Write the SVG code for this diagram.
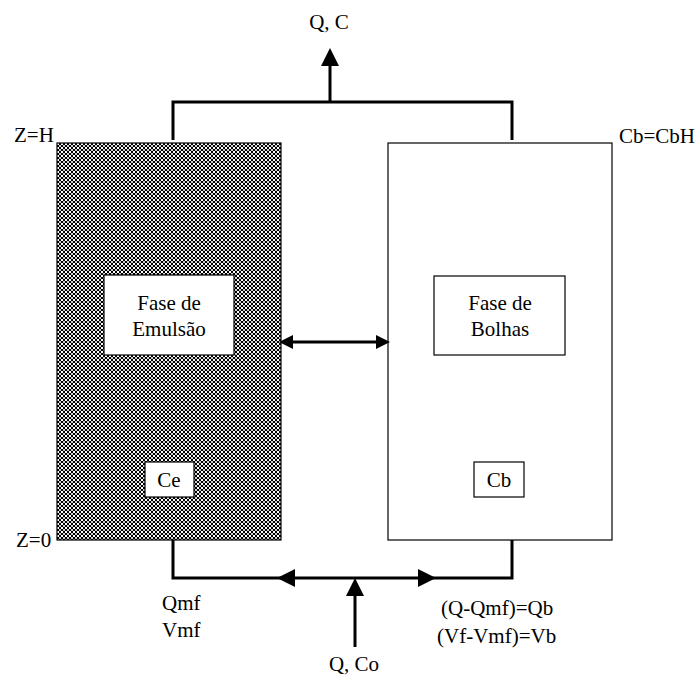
<svg xmlns="http://www.w3.org/2000/svg" width="699" height="677" viewBox="0 0 699 677">
<style>
text{font-family:"Liberation Serif","Times New Roman",serif;font-size:21px;fill:#000}
.c{text-anchor:middle}
.box{fill:#fff;stroke:#000;stroke-width:1.2}
.ln{fill:none;stroke:#000;stroke-width:3}
.ah{fill:#000;stroke:none}
</style>
<defs>
<pattern id="chk" x="57" y="143" width="4" height="4" patternUnits="userSpaceOnUse">
<rect width="4" height="4" fill="#000"/>
<rect x="0" y="0" width="2" height="2" fill="#fff"/>
<rect x="2" y="2" width="2" height="2" fill="#d0d0d0"/>
</pattern>
</defs>
<rect width="699" height="677" fill="#fff"/>
<g id="emulsao">
<rect x="57" y="143" width="224" height="397" fill="url(#chk)" stroke="#000" stroke-width="1.2"/>
<rect class="box" x="104" y="275" width="130" height="80"/>
<text class="c" x="169" y="310">Fase de</text>
<text class="c" x="169" y="336">Emulsão</text>
<rect class="box" x="145" y="462" width="49" height="35"/>
<text class="c" x="169" y="487">Ce</text>
</g>
<g id="bolhas">
<rect class="box" x="388" y="143" width="224" height="397"/>
<rect class="box" x="434" y="276" width="131" height="79"/>
<text class="c" x="500" y="310">Fase de</text>
<text class="c" x="500" y="336">Bolhas</text>
<rect class="box" x="474" y="462" width="50" height="35"/>
<text class="c" x="499" y="487">Cb</text>
</g>
<g id="labels">
<text class="c" x="329" y="29">Q, C</text>
<text x="14" y="142">Z=H</text>
<text x="619" y="143">Cb=CbH</text>
<text x="16" y="547">Z=0</text>
<text x="162" y="610">Qmf</text>
<text x="162" y="637">Vmf</text>
<text x="441" y="615">(Q-Qmf)=Qb</text>
<text x="437" y="643">(Vf-Vmf)=Vb</text>
<text class="c" x="354" y="671">Q, Co</text>
</g>
<g id="connectors">
<polyline class="ln" points="173,140 173,102 512,102 512,140"/>
<line class="ln" x1="330" y1="102" x2="330" y2="62"/>
<polygon class="ah" points="330,48 321,66 339,66"/>
<polyline class="ln" points="173,540 173,578 512,578 512,540"/>
<polygon class="ah" points="277,578 295,569 295,587"/>
<polygon class="ah" points="436,578 418,569 418,587"/>
<line class="ln" x1="355" y1="647" x2="355" y2="592"/>
<polygon class="ah" points="355,578 346,596 364,596"/>
<line class="ln" x1="290" y1="342" x2="380" y2="342"/>
<polygon class="ah" points="279,342 293,335 293,349"/>
<polygon class="ah" points="390,342 376,335 376,349"/>
</g>
</svg>
